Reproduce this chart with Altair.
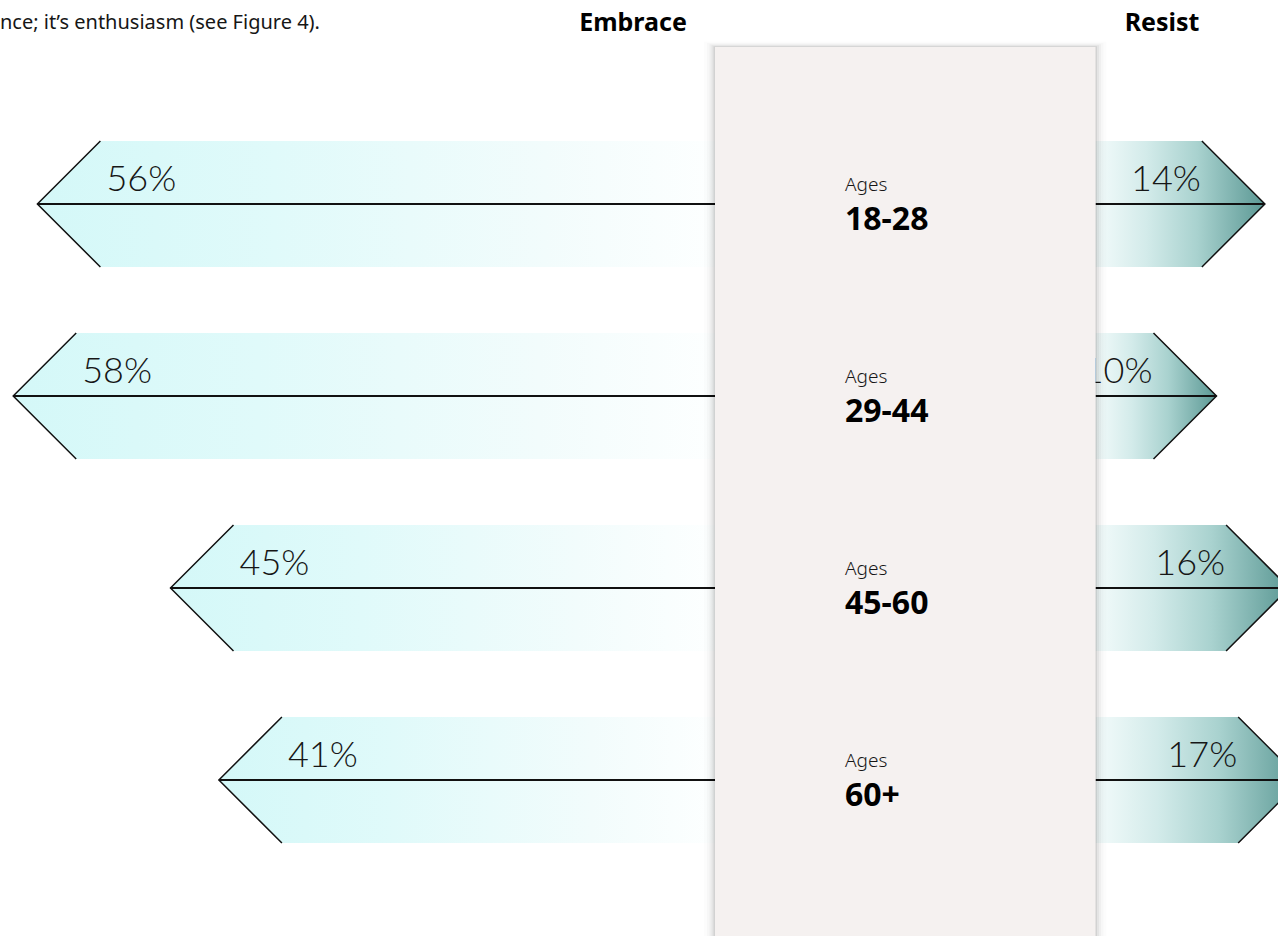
import altair as alt
import pandas as pd

# ---------------- data ----------------
GROUPS = ["18-28", "29-44", "45-60", "60+"]
EMBRACE = [56, 58, 45, 41]
RESIST = [14, 10, 16, 17]
HEADERS = ["Embrace", "Resist"]
INTRO = "nce; it\u2019s enthusiasm (see Figure 4)."
SUBLABEL = "Ages"

# ---------------- layout (pixel constants) ----------------
W, H = 1278, 936
K = 12.1            # px per percentage point
ROW_H = 192.0       # px between row centers
PANEL_L_PX = 715.0
PANEL_R_PX = 1095.5
ROW0_PX = 204.0
PANEL_TOP_PX = 47.0
HEAD_PX = 63.0      # arrow-head depth / half band height

PW = (PANEL_R_PX - PANEL_L_PX) / K          # panel width in % units
D = HEAD_PX / K                             # head depth in % units
HB = HEAD_PX / ROW_H                        # half band in row units
X0, X1 = -PANEL_L_PX / K, (W - PANEL_L_PX) / K
Y0, Y1 = -ROW0_PX / ROW_H, (H - ROW0_PX) / ROW_H

xs = alt.Scale(domain=[X0, X1], range=[0, W], nice=False, zero=False)
ys = alt.Scale(domain=[Y0, Y1], range=[0, H], nice=False, zero=False)


def X(field="x"):
    return alt.X(f"{field}:Q", scale=xs, axis=None)


def Y(field="y"):
    return alt.Y(f"{field}:Q", scale=ys, axis=None, stack=None)


# ---------------- arrow shapes ----------------
left_rows, right_rows, diag_rows, rule_rows = [], [], [], []
for i, (g, e, r) in enumerate(zip(GROUPS, EMBRACE, RESIST)):
    # embrace (pointing left)
    tip = -e
    left_rows += [
        dict(id=f"L{i}", o=0, x=tip, y=i, y2=i),
        dict(id=f"L{i}", o=1, x=tip + D, y=i - HB, y2=i + HB),
        dict(id=f"L{i}", o=2, x=0, y=i - HB, y2=i + HB),
    ]
    diag_rows += [
        dict(id=f"L{i}", o=0, x=tip + D, y=i - HB),
        dict(id=f"L{i}", o=1, x=tip, y=i),
        dict(id=f"L{i}", o=2, x=tip + D, y=i + HB),
    ]
    rule_rows.append(dict(x=tip, x2=0, y=i))
    # resist (pointing right)
    rtip = PW + r
    right_rows += [
        dict(id=f"R{i}", o=0, x=PW, y=i - HB, y2=i + HB),
        dict(id=f"R{i}", o=1, x=rtip - D, y=i - HB, y2=i + HB),
        dict(id=f"R{i}", o=2, x=rtip, y=i, y2=i),
    ]
    diag_rows += [
        dict(id=f"R{i}", o=0, x=rtip - D, y=i - HB),
        dict(id=f"R{i}", o=1, x=rtip, y=i),
        dict(id=f"R{i}", o=2, x=rtip - D, y=i + HB),
    ]
    rule_rows.append(dict(x=PW, x2=rtip, y=i))

left_df = pd.DataFrame(left_rows)
right_df = pd.DataFrame(right_rows)
diag_df = pd.DataFrame(diag_rows)
rule_df = pd.DataFrame(rule_rows)

grad_left = alt.LinearGradient(
    gradient="linear", x1=0, x2=1, y1=0, y2=0,
    stops=[alt.GradientStop(color="#d4f8f8", offset=0),
           alt.GradientStop(color="#e0fafa", offset=0.35),
           alt.GradientStop(color="#f2fcfc", offset=0.75),
           alt.GradientStop(color="#fdffff", offset=1)])
grad_right = alt.LinearGradient(
    gradient="linear", x1=0, x2=1, y1=0, y2=0,
    stops=[alt.GradientStop(color="#f3fbfb", offset=0),
           alt.GradientStop(color="#d3ebea", offset=0.3),
           alt.GradientStop(color="#a9d2cf", offset=0.6),
           alt.GradientStop(color="#5b9894", offset=1)])

area_layers = []
for df_, grad in [(left_df, grad_left), (right_df, grad_right)]:
    for aid in df_["id"].unique():
        sub = df_[df_["id"] == aid]
        area_layers.append(
            alt.Chart(sub).mark_area(fill=grad, interpolate="linear", orient="vertical").encode(
                x=X(), y=Y(), y2="y2:Q"))

diags = alt.Chart(diag_df).mark_line(color="#111111", strokeWidth=1.5).encode(
    x=X(), y=Y(), detail="id:N", order="o:Q")
rules = alt.Chart(rule_df).mark_rule(color="#111111", strokeWidth=2).encode(
    x=X(), x2="x2:Q", y=Y())

# ---------------- percent labels ----------------
LAB_DY = -13.0 / ROW_H
lab_left = pd.DataFrame(dict(
    x=[-e + 69.0 / K for e in EMBRACE],
    y=[i + LAB_DY for i in range(len(GROUPS))],
    t=[f"{e}%" for e in EMBRACE]))
lab_right = pd.DataFrame(dict(
    x=[PW + r - 64.0 / K for r in RESIST],
    y=[i + LAB_DY for i in range(len(GROUPS))],
    t=[f"{r}%" for r in RESIST]))
pct_style = dict(font="Lato", fontWeight=300, fontSize=36, color="#161616",
                 baseline="alphabetic")
left_txt = alt.Chart(lab_left).mark_text(align="left", **pct_style).encode(
    x=X(), y=Y(), text="t:N")
right_txt = alt.Chart(lab_right).mark_text(align="right", **pct_style).encode(
    x=X(), y=Y(), text="t:N")

# ---------------- centre panel ----------------
ptop = (PANEL_TOP_PX - ROW0_PX) / ROW_H
pbot = Y1 + 0.2
shadow_layers = []
for spread, op in [(11, 0.012), (8, 0.02), (5.5, 0.03), (3.5, 0.045), (1.5, 0.08)]:
    sdf = pd.DataFrame(dict(x=[-spread / K], x2=[PW + spread / K],
                            y=[ptop - spread / ROW_H * 0.5], y2=[pbot]))
    shadow_layers.append(
        alt.Chart(sdf).mark_rect(color="#000000", opacity=op).encode(
            x=X(), x2="x2:Q", y=Y(), y2="y2:Q"))
panel_df = pd.DataFrame(dict(x=[0.0], x2=[PW], y=[ptop], y2=[pbot]))
panel = alt.Chart(panel_df).mark_rect(color="#f5f1f0").encode(
    x=X(), x2="x2:Q", y=Y(), y2="y2:Q")

TXT_X = (845.0 - PANEL_L_PX) / K
ages_df = pd.DataFrame(dict(x=[TXT_X] * len(GROUPS),
                            y=[i - 13.0 / ROW_H for i in range(len(GROUPS))],
                            t=[SUBLABEL] * len(GROUPS)))
grp_df = pd.DataFrame(dict(x=[TXT_X] * len(GROUPS),
                           y=[i + 26.0 / ROW_H for i in range(len(GROUPS))],
                           t=GROUPS))
ages_txt = alt.Chart(ages_df).mark_text(
    align="left", baseline="alphabetic", font="Noto Sans", fontWeight=300,
    fontSize=19, color="#161616").encode(x=X(), y=Y(), text="t:N")
grp_txt = alt.Chart(grp_df).mark_text(
    align="left", baseline="alphabetic", font="Noto Sans", fontWeight="bold",
    fontSize=32, color="#000000").encode(x=X(), y=Y(), text="t:N")

# ---------------- headers ----------------
head_df = pd.DataFrame(dict(
    x=[(633.0 - PANEL_L_PX) / K, (1162.0 - PANEL_L_PX) / K],
    y=[(31.0 - ROW0_PX) / ROW_H] * 2,
    t=HEADERS))
heads = alt.Chart(head_df).mark_text(
    align="center", baseline="alphabetic", font="Noto Sans", fontWeight="bold",
    fontSize=25, color="#000000").encode(x=X(), y=Y(), text="t:N")
intro_df = pd.DataFrame(dict(x=[X0], y=[(29.0 - ROW0_PX) / ROW_H], t=[INTRO]))
intro = alt.Chart(intro_df).mark_text(
    align="left", baseline="alphabetic", font="Noto Sans", fontSize=20,
    color="#161616").encode(x=X(), y=Y(), text="t:N")

chart = alt.layer(
    *area_layers, rules, diags, left_txt, right_txt,
    *shadow_layers, panel, ages_txt, grp_txt, heads, intro
).properties(
    width=W, height=H, padding=0, autosize=alt.AutoSizeParams(type="none"),
    background="#ffffff"
).configure_view(stroke=None, clip=False)

chart.save("out.html", embed_options={"renderer": "svg", "actions": False})
